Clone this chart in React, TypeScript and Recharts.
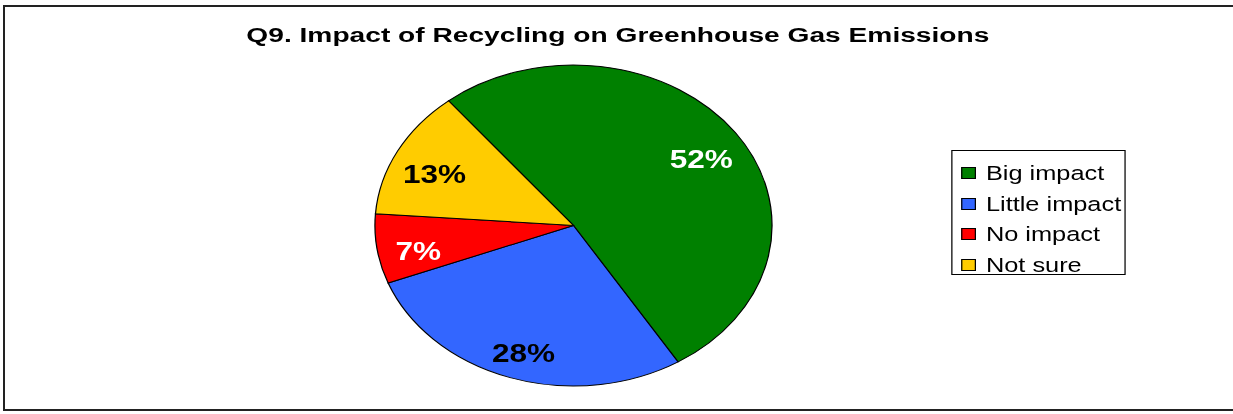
import React from 'react';
import { PieChart, Pie, Cell, Legend } from 'recharts';

const categories = ['Big impact', 'Little impact', 'No impact', 'Not sure'];
const values = [52, 28, 7, 13];
const colors = ['#008000', '#3366FF', '#FF0000', '#FFCC00'];
const labelColors = ['#FFFFFF', '#000000', '#FFFFFF', '#000000'];
const title = 'Q9. Impact of Recycling on Greenhouse Gas Emissions';

const data = categories.map((name, i) => ({ name, value: values[i] }));

const S = 1.237;
const W = Math.round(1233 / S);
const H = 414;
const FONT = 'Arial, "Liberation Sans", Helvetica, sans-serif';
const RADIAN = Math.PI / 180;

const renderLabel = (props: any) => {
  const { cx, cy, midAngle, outerRadius, index, value } = props;
  const r = outerRadius * 0.79;
  const x = cx + r * Math.cos(-midAngle * RADIAN);
  const y = cy + r * Math.sin(-midAngle * RADIAN);
  return (
    <text
      x={x}
      y={y + 16}
      textAnchor="middle"
      fill={labelColors[index]}
      fontFamily={FONT}
      fontWeight="bold"
      fontSize={25.5}
    >
      {`${value}%`}
    </text>
  );
};

const renderLegend = () => (
  <div
    style={{
      border: '1px solid #000',
      width: 139,
      height: 123,
      boxSizing: 'content-box',
      fontFamily: FONT,
      fontSize: 20.5,
      color: '#000',
      background: '#fff',
      position: 'relative',
    }}
  >
    {categories.map((c, i) => (
      <div
        key={c}
        style={{ position: 'absolute', left: 0, top: 9 + i * 30.5, height: 26, display: 'flex', alignItems: 'center' }}
      >
        <div
          style={{
            width: 10,
            height: 10,
            marginLeft: 7,
            border: '1px solid #000',
            background: colors[i],
          }}
        />
        <span style={{ marginLeft: 8, lineHeight: '26px', whiteSpace: 'nowrap' }}>{c}</span>
      </div>
    ))}
  </div>
);

export default function App() {
  return (
    <div style={{ position: 'absolute', left: 0, top: 0, width: 1233, height: 414, overflow: 'hidden', background: '#fff' }}>
      <div
        style={{
          position: 'absolute',
          left: 3,
          top: 5,
          width: 1230,
          height: 406,
          borderLeft: '2px solid #222',
          borderTop: '2px solid #222',
          borderBottom: '2px solid #222',
          boxSizing: 'border-box',
        }}
      />
      <div style={{ position: 'absolute', left: 0, top: 0, width: W, height: H, transform: `scaleX(${S})`, transformOrigin: '0 0' }}>
        <div
          style={{
            position: 'absolute',
            left: 0,
            top: 23,
            width: 999,
            textAlign: 'center',
            fontFamily: FONT,
            fontWeight: 'bold',
            fontSize: 19.5,
            lineHeight: '24px',
            color: '#000',
            transform: 'scaleX(1.167)',
            transformOrigin: '499.5px 0',
            whiteSpace: 'nowrap',
          }}
        >
          {title}
        </div>
        <PieChart width={W} height={H} margin={{ top: 0, right: 0, bottom: 0, left: 0 }}>
          <Pie
            data={data}
            dataKey="value"
            nameKey="name"
            cx={463.6}
            cy={225.5}
            outerRadius={160.5}
            startAngle={129}
            endAngle={-231}
            stroke="#000"
            strokeWidth={1}
            label={renderLabel}
            labelLine={false}
            isAnimationActive={false}
          >
            {data.map((d, i) => (
              <Cell key={d.name} fill={colors[i]} />
            ))}
          </Pie>
          <Legend
            content={renderLegend}
            wrapperStyle={{ position: 'absolute', left: 769, top: 150, width: 141, height: 125 }}
          />
        </PieChart>
      </div>
    </div>
  );
}
